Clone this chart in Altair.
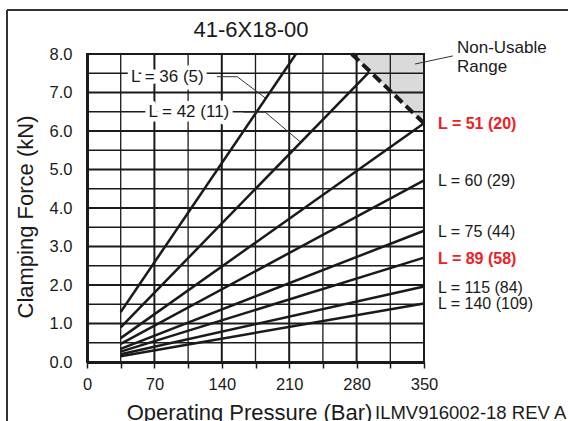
import altair as alt
import pandas as pd

FONT = "Liberation Sans"
INK = "#1a1a1a"
RED = "#ee2024"

# ---- data ----
curve_labels = ["L = 36 (5)", "L = 42 (11)", "L = 51 (20)", "L = 60 (29)",
                "L = 75 (44)", "L = 89 (58)", "L = 115 (84)", "L = 140 (109)"]
start_pressure = [35, 35, 35, 35, 35, 35, 35, 35]
start_force = [1.30, 0.90, 0.62, 0.47, 0.34, 0.27, 0.20, 0.15]
end_pressure = [217, 293, 350, 350, 350, 350, 350, 350]
end_force = [8.0, 7.53, 6.2, 4.72, 3.41, 2.71, 1.96, 1.52]
highlight = [False, False, True, False, False, True, False, False]

# labels with leader lines inside the plot (L = 36, L = 42)
inner_label_text = ["L = 36 (5)", "L = 42 (11)"]
inner_label_p = [83.5, 105.8]
inner_label_f = [7.41, 6.49]
leader_p = [[135, 156, 185], [162.3, 185, 221.4]]
leader_f = [[7.41, 7.41, 6.86], [6.49, 6.49, 5.72]]

# non-usable range boundary
boundary_p = [275, 350]
boundary_f = [8.0, 6.2]
region_top = 8.0
nonusable_leader_p = [340.7, 380]
nonusable_leader_f = [7.74, 7.95]

x_ticks = [0, 35, 70, 105, 140, 175, 210, 245, 280, 315, 350]
y_labels = [0, 1, 2, 3, 4, 5, 6, 7, 8]
y_grid = [i * 0.5 for i in range(17)]

# ---- tables ----
curves = pd.DataFrame({
    "label": curve_labels, "p": start_pressure, "f": start_force,
    "p2": end_pressure, "f2": end_force, "hl": highlight,
})
right_labels = curves[curves["p2"] == 350].copy()
right_normal = right_labels[~right_labels["hl"]]
right_bold = right_labels[right_labels["hl"]]
inner = pd.DataFrame({"label": inner_label_text, "p": inner_label_p, "f": inner_label_f})
leaders = pd.DataFrame([
    {"id": i, "o": j, "p": leader_p[i][j], "f": leader_f[i][j]}
    for i in range(len(leader_p)) for j in range(len(leader_p[i]))
])
region = pd.DataFrame({"p": boundary_p, "f": boundary_f, "top": [region_top] * 2})
nu_leader = pd.DataFrame({"p": nonusable_leader_p, "f": nonusable_leader_f})
xgrid = pd.DataFrame({"p": x_ticks})
ygrid = pd.DataFrame({"f": y_grid})

xscale = alt.Scale(domain=[0, 350], nice=False, zero=False)
yscale = alt.Scale(domain=[0, 8], nice=False, zero=False)

x_axis = alt.Axis(
    values=x_ticks, labelExpr="datum.value % 70 === 0 ? datum.label : ''",
    grid=False, labelOverlap=False,
    ticks=True, tickSize=6, tickColor=INK, tickWidth=1.5,
    domain=True, domainColor=INK, domainWidth=3,
    labelFont=FONT, labelFontSize=16.5, labelColor=INK, labelPadding=8,
    labelFlush=False,
    title="Operating Pressure (Bar)", titleFont=FONT, titleFontSize=22,
    titleFontWeight="normal", titleColor=INK,
    titleX=162, titleY=57, titleAlign="center", titleBaseline="alphabetic",
)
y_axis = alt.Axis(
    values=y_labels, format=".1f",
    grid=False, labelOverlap=False,
    ticks=False, tickSize=0,
    domain=True, domainColor=INK, domainWidth=3,
    labelFont=FONT, labelFontSize=16.5, labelColor=INK, labelPadding=15,
    labelFlush=False,
    title="Clamping Force (kN)", titleFont=FONT, titleFontSize=22,
    titleFontWeight="normal", titleColor=INK,
    titleX=-55, titleY=162.5, titleAngle=-90, titleAlign="center",
    titleBaseline="alphabetic",
)

X = alt.X("p:Q", scale=xscale, axis=x_axis)
Y = alt.Y("f:Q", scale=yscale, axis=y_axis)

# grey non-usable area
area = alt.Chart(region).mark_area(color="#dadada", opacity=1).encode(
    x=X, y=Y, y2="top:Q",
)

# grid drawn above the grey area
gx_major = alt.Chart(xgrid).transform_filter("datum.p % 70 === 0").mark_rule(
    color=INK, strokeWidth=2).encode(x=X)
gx_minor = alt.Chart(xgrid).transform_filter("datum.p % 70 !== 0").mark_rule(
    color=INK, strokeWidth=1.3).encode(x=X)
gy_major = alt.Chart(ygrid).transform_filter("datum.f % 1 === 0").mark_rule(
    color=INK, strokeWidth=2).encode(y=Y)
gy_minor = alt.Chart(ygrid).transform_filter("datum.f % 1 !== 0").mark_rule(
    color=INK, strokeWidth=1.3).encode(y=Y)

boundary = alt.Chart(region).mark_line(
    color=INK, strokeWidth=4, strokeDash=[10, 5]
).encode(x=X, y=Y)

lines = alt.Chart(curves).mark_rule(color=INK, strokeWidth=2.5).encode(
    x=X, y=Y, x2="p2:Q", y2="f2:Q"
)

leader_lines = alt.Chart(leaders).mark_line(color="#333333", strokeWidth=1).encode(
    x=X, y=Y, detail="id:N", order="o:Q"
)

inner_halo = alt.Chart(inner).mark_text(
    font=FONT, fontSize=17, stroke="white", strokeWidth=9, fill="white",
    strokeJoin="round", align="center", baseline="middle"
).encode(x=X, y=Y, text="label:N")
inner_text = alt.Chart(inner).mark_text(
    font=FONT, fontSize=17, color=INK, align="center", baseline="middle"
).encode(x=X, y=Y, text="label:N")

X2 = alt.X("p2:Q", scale=xscale, axis=x_axis)
Y2 = alt.Y("f2:Q", scale=yscale, axis=y_axis)
right_text_normal = alt.Chart(right_normal).mark_text(
    font=FONT, fontSize=16, align="left", baseline="middle", dx=14, dy=1, color=INK
).encode(x=X2, y=Y2, text="label:N")
right_text_bold = alt.Chart(right_bold).mark_text(
    font=FONT, fontSize=16, fontWeight="bold", align="left", baseline="middle",
    dx=14, dy=1, color=RED
).encode(x=X2, y=Y2, text="label:N")

nu_line = alt.Chart(nu_leader).mark_line(color="#333333", strokeWidth=1).encode(
    x=X, y=Y
)

annot = pd.DataFrame({"t": ["Non-Usable", "Range"], "yy": [-1, 18]})
nu_text = alt.Chart(annot).mark_text(
    font=FONT, fontSize=17, color=INK, align="left", baseline="alphabetic"
).encode(x=alt.value(370), y=alt.Y("yy:Q", scale=None), text="t:N")

title_df = pd.DataFrame({"t": ["41-6X18-00"]})
title_text = alt.Chart(title_df).mark_text(
    font=FONT, fontSize=22, color=INK, align="center", baseline="alphabetic"
).encode(x=alt.value(164), y=alt.value(-17.3), text="t:N")

ref_df = pd.DataFrame({"t": ["ILMV916002-18 REV A"]})
ref_text = alt.Chart(ref_df).mark_text(
    font=FONT, fontSize=18.5, color=INK, align="left", baseline="alphabetic"
).encode(x=alt.value(288), y=alt.value(365), text="t:N")

frame_df = pd.DataFrame({"k": [0]})
frame_left = alt.Chart(frame_df).mark_rule(color="#333333", strokeWidth=2).encode(
    x=alt.value(-80), y=alt.value(-44), y2=alt.value(400)
)
frame_top = alt.Chart(frame_df).mark_rule(color="#333333", strokeWidth=2).encode(
    x=alt.value(-80), x2=alt.value(500), y=alt.value(-44)
)

chart = alt.layer(
    area, gx_minor, gy_minor, gx_major, gy_major, lines, boundary, leader_lines,
    inner_halo, inner_text, right_text_normal, right_text_bold,
    nu_line, nu_text, title_text, ref_text, frame_left, frame_top
).properties(
    width=337, height=308,
    padding={"left": 87, "top": 54, "right": 144, "bottom": 59},
    autosize=alt.AutoSizeParams(type="none"),
    background="white",
).configure_view(stroke=INK, strokeWidth=2)

chart.save("out.html", embed_options={"renderer": "svg", "actions": False})
